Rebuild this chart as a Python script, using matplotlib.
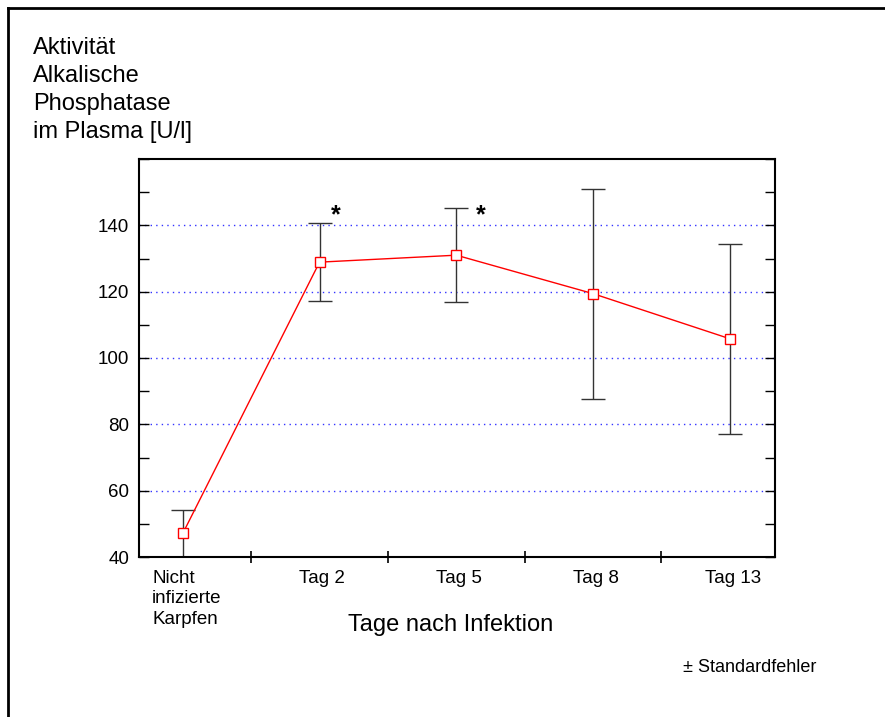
import matplotlib
matplotlib.use("Agg")
import matplotlib.pyplot as plt
from matplotlib.lines import Line2D
import numpy as np

plt.rcParams['font.family'] = ['Liberation Sans', 'DejaVu Sans']

categories = ["Nicht\ninfizierte\nKarpfen", "Tag 2", "Tag 5", "Tag 8", "Tag 13"]
means = [47.1, 128.9, 131.0, 119.4, 105.8]
errors = [7.1, 11.8, 14.2, 31.7, 28.7]
significant = [False, True, True, False, False]
y_ticks = [40, 60, 80, 100, 120, 140]
grid_levels = [60, 80, 100, 120, 140]

W, H = 885, 717
fig = plt.figure(figsize=(W / 100, H / 100), dpi=100)
fig.patch.set_facecolor('white')

# frame lines of the figure (left and top)
fig.add_artist(Line2D([8 / W, 8 / W], [0, 1 - 8 / H], transform=fig.transFigure,
                      color='black', lw=2))
fig.add_artist(Line2D([8 / W, 1], [1 - 8 / H, 1 - 8 / H], transform=fig.transFigure,
                      color='black', lw=2))

ax = fig.add_axes([139 / W, 160 / H, (775 - 139) / W, (557 - 159) / H])
x = np.arange(len(categories))

for g in grid_levels:
    ax.axhline(g, color='#3333ff', lw=1, ls=(0, (1, 3)), zorder=1)

ax.errorbar(x, means, yerr=errors, fmt='none', ecolor='#333333', elinewidth=1,
            capsize=8.5, capthick=1, zorder=2)
ax.plot(x, means, color='red', lw=1, zorder=3)
ax.plot(x, means, ls='none', marker='s', ms=6.5, mfc='white', mec='red',
        mew=1, zorder=4)

star_dx = [0.0, 0.12, 0.18, 0.0, 0.0]
for xi, s, dx in zip(x, significant, star_dx):
    if s:
        ax.text(xi + dx, 139.3, '*', fontsize=18, ha='center', va='bottom',
                fontweight='bold')

ax.set_xlim(-0.32, 4.33)
ax.set_ylim(40, 160)
ax.set_yticks(np.arange(40, 161, 10), minor=True)
ax.set_yticks(list(y_ticks) + [160])
ax.set_yticklabels([str(v) for v in y_ticks] + [''])
ax.tick_params(axis='y', which='both', direction='in', left=True, right=True,
               labelsize=13.5, length=7, width=1, pad=7)

ax.set_xticks([0.5, 1.5, 2.5, 3.5])
ax.set_xticklabels([])
ax.tick_params(axis='x', which='major', direction='inout', length=8, width=1.2)
for xi, c in zip(x, categories):
    ax.text(xi + (0.03 if xi == 0 else 0.02), -0.032, c, transform=ax.get_xaxis_transform(),
            ha='center', va='top', fontsize=13.5, multialignment='left', linespacing=1.28)

for sp in ax.spines.values():
    sp.set_linewidth(1.5)

fig.text(451 / W, 1 - 625 / H, 'Tage nach Infektion', ha='center', va='center', fontsize=17)
fig.text(33 / W, 1 - 37 / H, 'Aktivität\nAlkalische\nPhosphatase\nim Plasma [U/l]',
         ha='left', va='top', fontsize=17, linespacing=1.36)
fig.text(750 / W, 1 - 668 / H, '± Standardfehler', ha='center', va='center', fontsize=13)

fig.savefig('out.png', dpi=100, facecolor='white')
